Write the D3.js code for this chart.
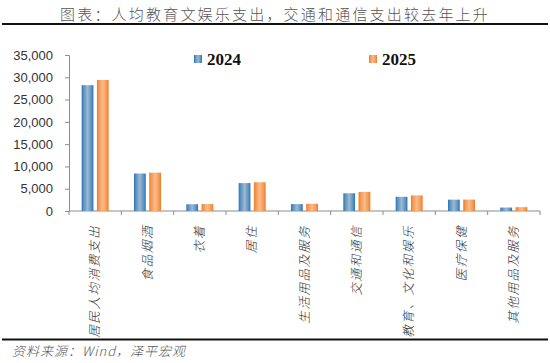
<!DOCTYPE html>
<html>
<head>
<meta charset="utf-8">
<script src="https://cdn.jsdelivr.net/npm/d3@7"></script>
<style>
	body{margin:0;background:#fff;}
	svg{display:block;}
</style>
</head>
<body>
<svg id="chart" width="550" height="363"></svg>
<script>
// data
const categories = ['居民人均消费支出','食品烟酒','衣着','居住','生活用品及服务','交通和通信','教育、文化和娱乐','医疗保健','其他用品及服务'];
const seriesNames = ['2024','2025'];
const values2024 = [28227, 8411, 1521, 6263, 1547, 3976, 3189, 2547, 773];
const values2025 = [29400, 8600, 1560, 6450, 1620, 4280, 3500, 2560, 860];
const yTicks = [0,5000,10000,15000,20000,25000,30000,35000];

const svg = d3.select('#chart');
const plotLeft = 69, plotRight = 540, plotTop = 55, plotBottom = 211;

// gradients for the bars
const defs = svg.append('defs');
const grads = {
	'2024': ['#2a72b8','#5d93c2','#9db9cf','#5d93c2','#2a72b8'],
	'2025': ['#ee7b27','#f39a55','#f9bb8a','#f39a55','#ee7b27']
};
seriesNames.forEach(s=>{
	const g = defs.append('linearGradient').attr('id','g'+s)
		.attr('x1','0%').attr('x2','100%').attr('y1','0%').attr('y2','0%');
	[0,18,50,82,100].forEach((o,i)=>{
		g.append('stop').attr('offset',o+'%').attr('stop-color',grads[s][i]);
	});
});

// title + rules
svg.append('text')
	.attr('x',275).attr('y',20)
	.attr('text-anchor','middle')
	.style('font-family','"Noto Sans CJK SC"')
	.style('font-size','15px')
	.style('font-weight','300')
	.style('letter-spacing','2.2px')
	.style('fill','#555')
	.text('图表：人均教育文娱乐支出，交通和通信支出较去年上升');
svg.append('line').attr('x1',2).attr('x2',548).attr('y1',24).attr('y2',24)
	.attr('stroke','#111').attr('stroke-width',2);
svg.append('line').attr('x1',2).attr('x2',548).attr('y1',339.5).attr('y2',339.5)
	.attr('stroke','#111').attr('stroke-width',2);

svg.append('text')
	.attr('x',12).attr('y',356)
	.style('font-family','"Noto Sans CJK SC"')
	.style('font-size','13px')
	.style('font-weight','300')
	.style('font-style','italic')
	.style('letter-spacing','1px')
	.style('fill','#555')
	.text('资料来源：Wind，泽平宏观');

// scales
const x = d3.scaleBand().domain(categories).range([plotLeft,plotRight]);
const bw = x.bandwidth();
const x1 = d3.scaleBand().domain(seriesNames)
	.range([bw/2-13.5, bw/2+13.5]).paddingInner(0.23);
const y = d3.scaleLinear().domain([0,35000]).range([plotBottom,plotTop]);

// y axis
const yAxis = svg.append('g')
	.attr('transform',`translate(${plotLeft},0)`)
	.call(d3.axisLeft(y).tickValues(yTicks).tickSize(4).tickPadding(12)
		.tickFormat(d3.format(',')));
yAxis.select('.domain').attr('stroke','#8c8c8c');
yAxis.selectAll('.tick line').attr('stroke','#8c8c8c');
yAxis.selectAll('.tick text')
	.style('font-family','"Liberation Sans", Arial')
	.style('font-size','13px')
	.style('fill','#333');

// x axis line with ticks at category boundaries
const xAxis = svg.append('g').attr('transform',`translate(0,${plotBottom})`);
xAxis.append('line').attr('x1',plotLeft).attr('x2',plotRight).attr('stroke','#8c8c8c');
xAxis.selectAll('line.tk')
	.data(categories.map(c=>x(c)).concat([plotRight]))
	.join('line').classed('tk',true)
	.attr('x1',d=>d).attr('x2',d=>d).attr('y1',0).attr('y2',4)
	.attr('stroke','#8c8c8c');

// bars
const rows = categories.map((c,i)=>({cat:c, vals:[
	{key:'2024', v:values2024[i]},
	{key:'2025', v:values2025[i]}
]}));
svg.append('g').selectAll('g')
	.data(rows)
	.join('g')
	.attr('transform',d=>`translate(${x(d.cat)},0)`)
	.selectAll('rect')
	.data(d=>d.vals)
	.join('rect')
		.attr('x',d=>x1(d.key))
		.attr('width',x1.bandwidth())
		.attr('y',d=>y(d.v))
		.attr('height',d=>y(0)-y(d.v))
		.attr('fill',d=>`url(#g${d.key})`);

// category labels, rotated
svg.append('g').selectAll('text')
	.data(categories)
	.join('text')
	.attr('transform',d=>`translate(${x(d)+bw/2+4},${plotBottom+14}) rotate(-90)`)
	.attr('text-anchor','end')
	.style('font-family','"Noto Sans CJK SC"')
	.style('font-size','12.5px')
	.style('font-weight','300')
	.style('font-style','italic')
	.style('letter-spacing','1.6px')
	.style('fill','#333')
	.text(d=>d);

// legend
const legendX = {'2024':194,'2025':369};
const lg = svg.append('g').selectAll('g')
	.data(seriesNames)
	.join('g')
	.attr('transform',d=>`translate(${legendX[d]},55)`);
lg.append('rect').attr('width',8).attr('height',8)
	.attr('fill',d=>`url(#g${d})`);
lg.append('text')
	.attr('x',13).attr('y',10)
	.style('font-family','"Liberation Serif", "Times New Roman"')
	.style('font-weight','bold')
	.style('font-size','17px')
	.style('fill','#111')
	.text(d=>d);
</script>
</body>
</html>
